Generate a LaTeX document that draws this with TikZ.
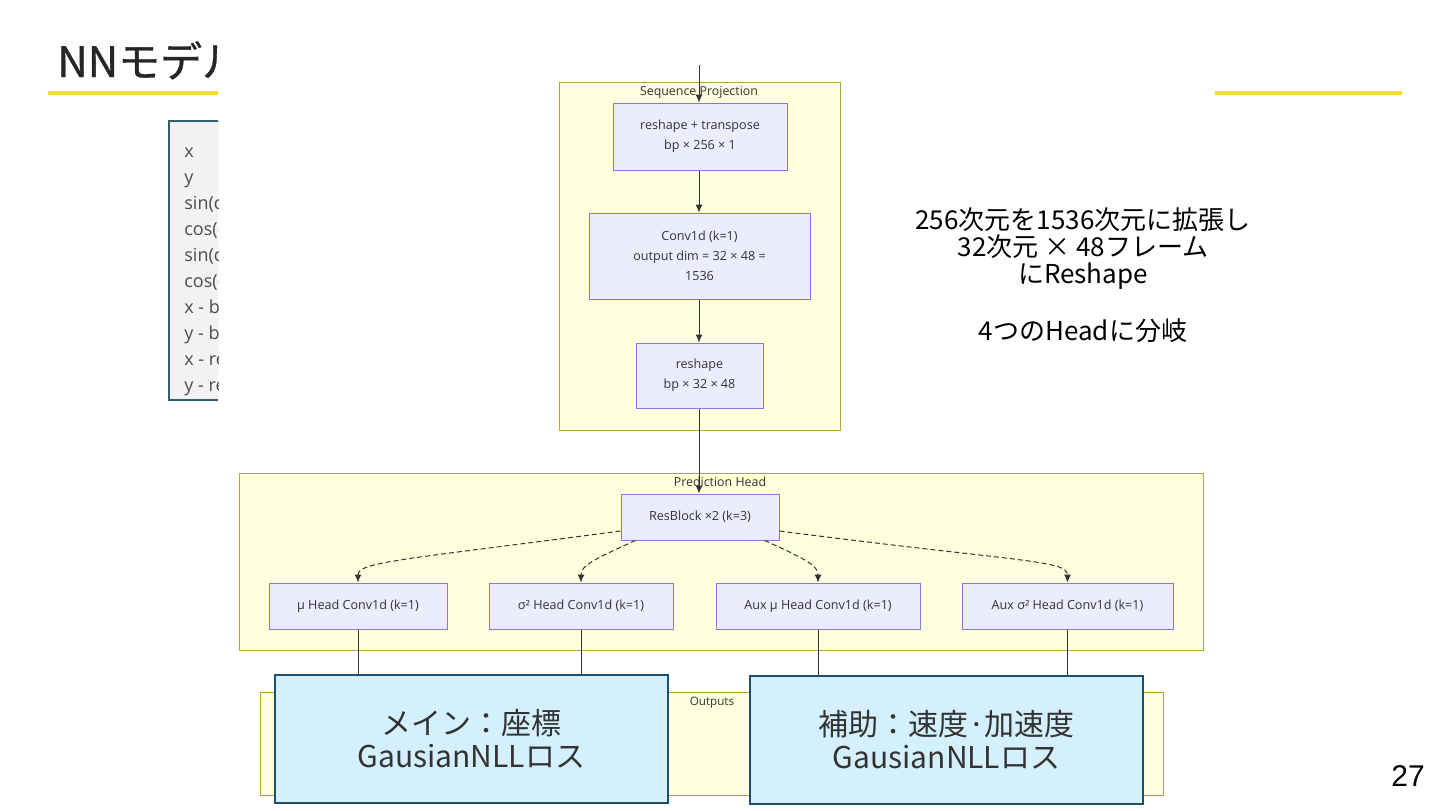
\documentclass[tikz,border=0pt]{standalone}
\usepackage{fontspec}
\usepackage{xcolor}
\usepackage{tikz}
\usetikzlibrary{arrows.meta,calc}
\newfontfamily\jpfont{Noto Sans CJK JP}
\newfontfamily\ttlfont[FakeBold=0.8]{Noto Sans CJK JP}
\newfontfamily\mmfont{Open Sans}
\newfontfamily\pgfont{Liberation Sans}
\definecolor{grpfill}{HTML}{FFFFDE}
\definecolor{grpline}{HTML}{AAAA33}
\definecolor{blkfill}{HTML}{ECECFF}
\definecolor{blkline}{HTML}{9370DB}
\definecolor{lossfill}{HTML}{D4F0FC}
\definecolor{lossline}{HTML}{1F4E6E}
\definecolor{accent}{HTML}{F4DA3E}
\definecolor{inbg}{HTML}{F2F2F2}
\definecolor{inedge}{HTML}{2F5F70}
\definecolor{edge}{HTML}{333333}
\tikzset{
  grp/.style={draw=grpline,fill=grpfill,line width=0.4pt},
  grplbl/.style={font=\mmfont\fontsize{6.2}{7}\selectfont,text=edge,inner sep=0pt},
  blk/.style={draw=blkline,fill=blkfill,line width=0.5pt,inner sep=0pt,align=center,
              font=\mmfont\fontsize{6.3}{10}\selectfont,text=edge},
  loss/.style={draw=lossline,fill=lossfill,line width=1pt,inner sep=0pt,align=center,
               minimum width=196.5pt,minimum height=64pt,
               font=\jpfont\fontsize{15}{16.5}\selectfont,text=edge},
  arr/.style={-{Latex[length=4pt,width=3.5pt]},draw=edge,line width=0.5pt},
  darr/.style={arr,dash pattern=on 2.5pt off 1.5pt},
  link/.style={draw=edge,line width=0.5pt},
}

\begin{document}
\begin{tikzpicture}[
  x=0.5pt,y=-0.5pt,
  head/.style={blk,minimum height=23pt},
  inl/.style={font=\mmfont\fontsize{9}{10}\selectfont,text=black!70,inner sep=0pt},
  note/.style={font=\jpfont\fontsize{13}{13.5}\selectfont,align=center,inner sep=0pt},
]
  \useasboundingbox (0,0) rectangle (1440,810);

  %% ── Slide frame ──────────────────────────────────────────────────────────
  \begin{scope}
    \clip (0,0) rectangle (218,810);
    \node[font=\ttlfont\fontsize{21}{24}\selectfont,text=black!85,anchor=base west,inner sep=0pt]
      (title) at (57,77) {NNモデル};
    \draw[inedge,fill=inbg,line width=0.6pt] (169,121) rectangle (260,400);
    \foreach \txt [count=\i from 0] in {x,y,sin(c,cos(c,sin(c,cos(c,x - b,y - b,x - re,y - re}
      \node[inl,anchor=base west] (in\i) at (184,{157+26*\i}) {\txt};
  \end{scope}
  \draw[accent,line width=2pt] (48,93) -- (218,93);
  \draw[accent,line width=2pt] (1215,93) -- (1402,93);
  \node[font=\pgfont\fontsize{15}{16}\selectfont,inner sep=0pt] (pg) at (1408,776) {27};

  %% ── Sequence Projection ──────────────────────────────────────────────────
  \draw[grp] (559,82) rectangle (840,430);
  \node[grplbl] (seqlbl) at (699,92) {Sequence Projection};
  \node[blk,minimum width=87pt,minimum height=33.5pt] (rt) at (700,136.5)
    {reshape + transpose\\bp × 256 × 1};
  \node[blk,minimum width=110.5pt,minimum height=43pt] (conv) at (699.5,256)
    {Conv1d (k=1)\\output dim = 32 × 48 =\\1536};
  \node[blk,minimum width=63.5pt,minimum height=32.5pt] (rs) at (699.5,375.5)
    {reshape\\bp × 32 × 48};

  %% ── Prediction Head ──────────────────────────────────────────────────────
  \draw[grp] (239,473) rectangle (1203,650);
  \node[grplbl] (predlbl) at (720,482) {Prediction Head};
  \node[head,minimum width=79pt] (res) at (700,517) {ResBlock ×2 (k=3)};
  \node[head,minimum width=89pt]  (mu)   at (358,606)    {μ Head Conv1d (k=1)};
  \node[head,minimum width=92pt]  (sig)  at (581,606)    {σ² Head Conv1d (k=1)};
  \node[head,minimum width=102pt] (amu)  at (818,606)    {Aux μ Head Conv1d (k=1)};
  \node[head,minimum width=105.5pt] (asig) at (1067.5,606) {Aux σ² Head Conv1d (k=1)};

  %% ── Outputs ──────────────────────────────────────────────────────────────
  \draw[grp] (260,692) rectangle (1163,795);
  \node[grplbl,font=\mmfont\fontsize{5.8}{7}\selectfont] (outlbl) at (712,703) {Outputs};

  %% ── Edges ────────────────────────────────────────────────────────────────
  \coordinate (src) at (699,65);
  \draw[arr] (src) -- (rt.north -| src);
  \draw[arr] (rt.south -| src) -- (conv.north -| src);
  \draw[arr] (conv.south -| src) -- (rs.north -| src);
  \draw[arr] (rs.south -| src) -- (res.north -| src);

  \draw[darr] (res.190) .. controls (400,560) and (358,562) .. (mu.north);
  \draw[darr] (res.200) .. controls (592,560) and (581,566) .. (sig.north);
  \draw[darr] (res.340) .. controls (808,560) and (818,566) .. (amu.north);
  \draw[darr] (res.350) .. controls (1020,562) and (1067.5,560) .. (asig.north);

  \node[loss] (lmain) at (471.5,739) {メイン：座標\\GausianNLLロス};
  \node[loss] (laux)  at (946.5,740) {補助：速度·加速度\\GausianNLLロス};

  \draw[link] (mu.south)   -- (mu.south |- lmain.north);
  \draw[link] (sig.south)  -- (sig.south |- lmain.north);
  \draw[link] (amu.south)  -- (amu.south |- laux.north);
  \draw[link] (asig.south) -- (asig.south |- laux.north);

  %% ── Note ─────────────────────────────────────────────────────────────────
  \node[note,anchor=north] (note) at (1083,207)
    {256次元を1536次元に拡張し\\32次元 × 48フレーム\\にReshape\\[13.5pt]4つのHeadに分岐};
\end{tikzpicture}
\end{document}
